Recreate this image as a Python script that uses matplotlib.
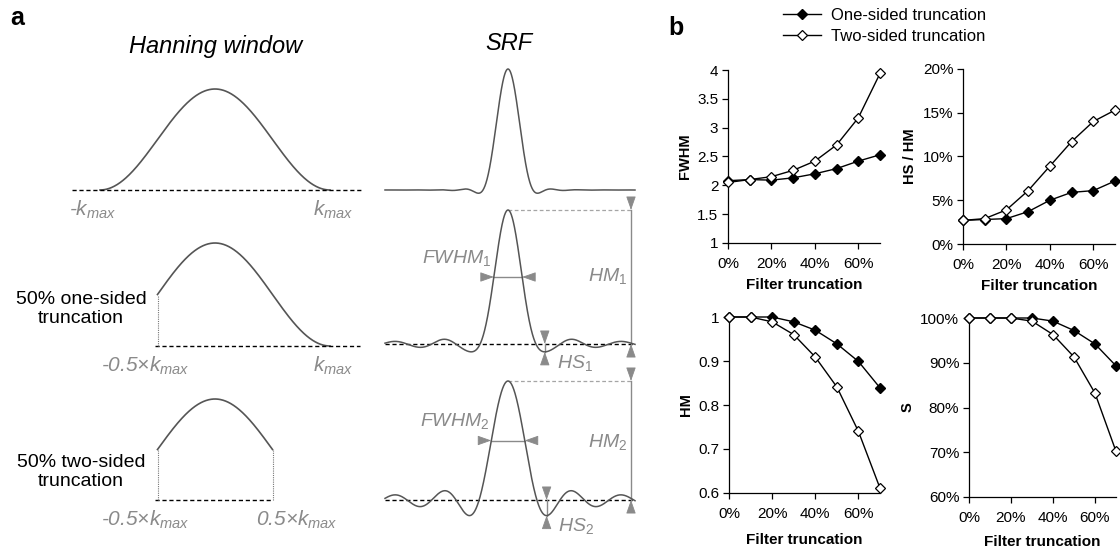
import numpy as np
import matplotlib
matplotlib.use("Agg")
import matplotlib.pyplot as plt
from matplotlib.ticker import PercentFormatter, FuncFormatter

plt.rcParams['font.family'] = ['Liberation Sans', 'DejaVu Sans']
plt.rcParams['mathtext.fontset'] = 'custom'
plt.rcParams['mathtext.it'] = 'Liberation Sans:italic'
plt.rcParams['mathtext.rm'] = 'Liberation Sans'

# ---- panel b data ----
truncation = [0.0, 0.1, 0.2, 0.3, 0.4, 0.5, 0.6, 0.7]
fwhm_one = [2.08, 2.10, 2.09, 2.13, 2.20, 2.29, 2.42, 2.53]
fwhm_two = [2.05, 2.10, 2.15, 2.26, 2.42, 2.70, 3.17, 3.94]
hs_one = [0.027, 0.028, 0.029, 0.037, 0.050, 0.059, 0.061, 0.072]
hs_two = [0.027, 0.029, 0.039, 0.061, 0.089, 0.117, 0.140, 0.153]
hm_one = [1.0, 1.0, 1.0, 0.989, 0.970, 0.939, 0.899, 0.839]
hm_two = [1.0, 1.0, 0.989, 0.960, 0.909, 0.841, 0.740, 0.611]
s_one = [1.0, 1.0, 1.0, 1.0, 0.993, 0.972, 0.942, 0.893]
s_two = [1.0, 1.0, 1.0, 0.993, 0.963, 0.913, 0.832, 0.702]

# ---- panel a: kept part of k-space, in units of k_max ----
window_limits = [(-1.0, 1.0), (-0.5, 1.0), (-0.5, 0.5)]
window_labels = [("-$k_{max}$", "$k_{max}$"),
                 ("-0.5×$k_{max}$", "$k_{max}$"),
                 ("-0.5×$k_{max}$", "0.5×$k_{max}$")]
row_names = [None, "50% one-sided\ntruncation", "50% two-sided\ntruncation"]

W, H = 1120, 547
GRAY = '#8a8a8a'
CURVE = '#555555'

fig = plt.figure(figsize=(W / 100, H / 100), dpi=100)


def box(l, t, r, b):
    return fig.add_axes([l / W, 1 - b / H, (r - l) / W, (b - t) / H])


def panel(cx, ppx, base, peak, l, t, r, b):
    ax = box(l, t, r, b)
    h = base - peak
    ax.set_xlim((l - cx) / ppx, (r - cx) / ppx)
    ax.set_ylim((base - b) / h, (base - t) / h)
    ax.axis('off')
    return ax


def hann(k):
    return 0.5 * (1 + np.cos(np.pi * k))


def tri(ax, xy, dx, dy):
    ax.annotate('', xy=xy, xytext=(dx, dy), textcoords='offset points',
                arrowprops=dict(arrowstyle='-|>,head_length=0.85,head_width=0.3',
                                color=GRAY, lw=0.6, shrinkA=0, shrinkB=0,
                                mutation_scale=10))


def ftext(x, y, s, **kw):
    fig.text(x / W, 1 - y / H, s, **kw)


# Hanning windows
win_base = [190, 346, 500]
win_peak = [89, 243, 399]
win_extent = [(-1.24, 1.29), (-0.52, 1.26), (-0.52, 0.5)]
for i, (lo, hi) in enumerate(window_limits):
    ax = panel(215, 115, win_base[i], win_peak[i], 60, win_peak[i] - 20, 372, win_base[i] + 40)
    k = np.linspace(lo, hi, 400)
    ax.plot(k, hann(k), color=CURVE, lw=1.2)
    ax.plot(win_extent[i], [0, 0], color='black', lw=1, dashes=(3, 2))
    for edge in (lo, hi):
        if abs(edge) < 1:
            ax.plot([edge, edge], [0, hann(edge)], color='#777777', lw=0.8, ls=(0, (1, 1)))
    h = win_base[i] - win_peak[i]
    left_lab, right_lab = window_labels[i]
    lx = -1.06 if lo == -1 else -0.61
    rx = 1.03 if hi == 1 else 0.71
    ax.text(lx, -20 / h, left_lab, color=GRAY, fontsize=15, style='italic', ha='center', va='center')
    ax.text(rx, -20 / h, right_lab, color=GRAY, fontsize=15, style='italic', ha='center', va='center')

ftext(81, 309, row_names[1], fontsize=14, ha='center', va='center', linespacing=1.2)
ftext(81, 472, row_names[2], fontsize=14, ha='center', va='center', linespacing=1.2)

# SRFs: real part of the Fourier transform of each window
srf_base = [190, 344, 500]
srf_peak = [69, 210, 381]
x_srf = np.linspace(-4.92, 5.08, 1500)
hm_x = (631 - 508) / 25
for i, (lo, hi) in enumerate(window_limits):
    ax = panel(508, 25, srf_base[i], srf_peak[i], 380, srf_peak[i] - 20, 645, srf_base[i] + 35)
    k = np.linspace(lo, hi, 1501)
    srf = np.trapezoid(hann(k) * np.cos(2 * np.pi * np.outer(x_srf, k)), k, axis=1)
    srf = srf / srf.max()
    ax.plot(x_srf, srf, color=CURVE, lw=1.1, zorder=3)
    if i == 0:
        continue
    ax.plot([x_srf[0], x_srf[-1]], [0, 0], color='black', lw=1, dashes=(3, 2), zorder=2)
    # HM marker
    ax.plot([0, hm_x], [1, 1], color='#a5a5a5', lw=0.9, dashes=(3, 2))
    ax.plot([hm_x, hm_x], [0, 1], color=GRAY, lw=1)
    tri(ax, (hm_x, 1), 0, 9)
    tri(ax, (hm_x, 0), 0, -9)
    # FWHM marker
    ip = int(np.argmax(srf))
    j = ip
    while srf[j] > 0.5:
        j -= 1
    xl = np.interp(0.5, [srf[j], srf[j + 1]], [x_srf[j], x_srf[j + 1]])
    j = ip
    while srf[j] > 0.5:
        j += 1
    xr = np.interp(0.5, [srf[j], srf[j - 1]], [x_srf[j], x_srf[j - 1]])
    ax.plot([xl, xr], [0.5, 0.5], color=GRAY, lw=1)
    tri(ax, (xl, 0.5), -9, 0)
    tri(ax, (xr, 0.5), 9, 0)
    # HS marker at first right-hand trough
    right = (x_srf > 0) & (x_srf < 2.5)
    jt = np.argmin(np.where(right, srf, np.inf))
    ax.plot([x_srf[jt], x_srf[jt]], [0, srf[jt]], color=GRAY, lw=1)
    tri(ax, (x_srf[jt], 0), 0, 9)
    tri(ax, (x_srf[jt], srf[jt]), 0, -9)

ftext(457, 258, r'$\mathit{FWHM}_1$', fontsize=14, color=GRAY, ha='center', va='center')
ftext(608, 276, r'$\mathit{HM}_1$', fontsize=14, color=GRAY, ha='center', va='center')
ftext(557, 363, r'$\mathit{HS}_1$', fontsize=14, color=GRAY, ha='left', va='center')
ftext(455, 421, r'$\mathit{FWHM}_2$', fontsize=14, color=GRAY, ha='center', va='center')
ftext(608, 442, r'$\mathit{HM}_2$', fontsize=14, color=GRAY, ha='center', va='center')
ftext(558, 526, r'$\mathit{HS}_2$', fontsize=14, color=GRAY, ha='left', va='center')

ftext(216, 46, "Hanning window", fontsize=17, style='italic', ha='center', va='center')
ftext(509, 44, "SRF", fontsize=17, style='italic', ha='center', va='center')
ftext(17, 18, "a", fontsize=18, fontweight='bold', ha='center', va='center')
ftext(676, 28, "b", fontsize=18, fontweight='bold', ha='center', va='center')

# ---- panel b ----
pct = PercentFormatter(1.0, decimals=0)
num = FuncFormatter(lambda v, p: '%g' % v)
specs = [
    ((728, 70, 880, 243), fwhm_one, fwhm_two, (1, 4), np.arange(1, 4.01, 0.5), num, 'FWHM', 5),
    ((963, 69, 1115, 244), hs_one, hs_two, (0, 0.2), np.arange(0, 0.201, 0.05), pct, 'HS / HM', 5),
    ((729, 317, 880, 493), hm_one, hm_two, (0.6, 1.0), np.arange(0.6, 1.001, 0.1), num, 'HM', 9),
    ((969, 318, 1116, 497), s_one, s_two, (0.6, 1.0), np.arange(0.6, 1.001, 0.1), pct, 'S', 7),
]
handles = None
for (l, t, r, b), one, two, ylim, yt, fmt, ylab, xpad in specs:
    ax = box(l, t, r, b)
    h1, = ax.plot(truncation, one, color='black', lw=1, marker='D', ms=5.5,
                  mfc='black', mec='black', clip_on=False, zorder=3)
    h2, = ax.plot(truncation, two, color='black', lw=1, marker='D', ms=5.5,
                  mfc='white', mec='black', mew=0.9, clip_on=False, zorder=4)
    if handles is None:
        handles = [h1, h2]
    ax.set_xlim(0, 0.7)
    ax.set_ylim(*ylim)
    ax.set_xticks([0, 0.2, 0.4, 0.6])
    ax.xaxis.set_major_formatter(pct)
    ax.set_yticks(yt)
    ax.yaxis.set_major_formatter(fmt)
    for s in ('top', 'right'):
        ax.spines[s].set_visible(False)
    for s in ('left', 'bottom'):
        ax.spines[s].set_linewidth(0.9)
    ax.tick_params(direction='out', length=4, width=0.9, labelsize=11, pad=3)
    ax.tick_params(axis='x', pad=6)
    ax.set_xlabel('Filter truncation', fontsize=11, fontweight='bold', labelpad=xpad)
    ax.set_ylabel(ylab, fontsize=10.5, fontweight='bold', labelpad=4)
    ax.patch.set_alpha(0)

fig.legend(handles, ['One-sided truncation', 'Two-sided truncation'],
           loc='upper left', bbox_to_anchor=(783 / W, 1 - 8 / H), frameon=False,
           fontsize=12, handlelength=2.3, handletextpad=0.6, labelspacing=0.35,
           borderpad=0, borderaxespad=0)

fig.savefig('out.png', dpi=100)
